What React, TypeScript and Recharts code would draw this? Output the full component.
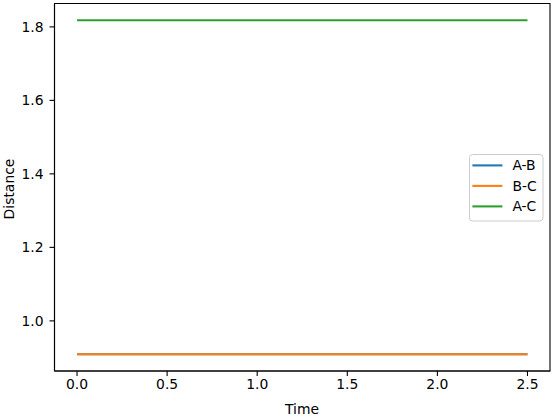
import React from 'react';
import { LineChart, Line, XAxis, YAxis, Legend, ReferenceArea } from 'recharts';

const times = [0, 0.25, 0.5, 0.75, 1.0, 1.25, 1.5, 1.75, 2.0, 2.25, 2.5];
const abDistance = [0.909, 0.909, 0.909, 0.909, 0.909, 0.909, 0.909, 0.909, 0.909, 0.909, 0.909];
const bcDistance = [0.909, 0.909, 0.909, 0.909, 0.909, 0.909, 0.909, 0.909, 0.909, 0.909, 0.909];
const acDistance = [1.818, 1.818, 1.818, 1.818, 1.818, 1.818, 1.818, 1.818, 1.818, 1.818, 1.818];
const xTicks = [0, 0.5, 1.0, 1.5, 2.0, 2.5];
const yTicks = [1.0, 1.2, 1.4, 1.6, 1.8];
const xDomain = [-0.125, 2.625];
const yDomain = [0.8636, 1.8636];

const seriesNames = ['A-B', 'B-C', 'A-C'];
const seriesKeys = ['ab', 'bc', 'ac'];
const seriesColors = ['#1f77b4', '#ff7f0e', '#2ca02c'];

const data = times.map((t, i) => ({
  t,
  ab: abDistance[i],
  bc: bcDistance[i],
  ac: acDistance[i],
}));

const FONT = 'DejaVu Sans, sans-serif';
const FS = 13.9;

const LegendBox = () => (
  <svg width={75} height={68} style={{ display: 'block' }}>
    <rect x={0.5} y={0.5} width={73.5} height={66.5} rx={3} ry={3}
      fill="rgba(255,255,255,0.8)" stroke="#cccccc" strokeWidth={1} />
    {seriesNames.map((n, i) => (
      <g key={n}>
        <line x1={3.4} x2={33.4} y1={11.4 + i * 20.5} y2={11.4 + i * 20.5}
          stroke={seriesColors[i]} strokeWidth={2.08} />
        <text x={43.4} y={11.4 + i * 20.5} dominantBaseline="central"
          fontFamily={FONT} fontSize={FS} fill="#000">{n}</text>
      </g>
    ))}
  </svg>
);

export default function App() {
  return (
    <div style={{ position: 'absolute', left: 0, top: 0 }}>
      <LineChart width={554} height={417} data={data}
        margin={{ top: 3.5, right: 4, left: 0, bottom: 0 }}
        style={{ background: '#fff' }}>
        <XAxis dataKey="t" type="number" domain={xDomain} ticks={xTicks}
          allowDataOverflow height={46}
          tickFormatter={(v: number) => v.toFixed(1)}
          tick={{ fill: '#000', fontFamily: FONT, fontSize: FS }}
          tickSize={5} tickMargin={3.3}
          tickLine={{ stroke: '#000', strokeWidth: 1.1 }}
          axisLine={{ stroke: '#000', strokeWidth: 1.1 }}
          label={(props: any) => (
            <text x={302} y={413.5} textAnchor="middle" fontFamily={FONT}
              fontSize={FS} fill="#000">Time</text>
          )} />
        <YAxis type="number" domain={yDomain} ticks={yTicks}
          allowDataOverflow width={54.5}
          tickFormatter={(v: number) => v.toFixed(1)}
          tick={{ fill: '#000', fontFamily: FONT, fontSize: FS }}
          tickSize={5} tickMargin={6}
          tickLine={{ stroke: '#000', strokeWidth: 1.1 }}
          axisLine={{ stroke: '#000', strokeWidth: 1.1 }}
          label={(props: any) => (
            <text x={14} y={189} textAnchor="middle" fontFamily={FONT}
              fontSize={FS} fill="#000" transform="rotate(-90 14 189)">Distance</text>
          )} />
        <ReferenceArea x1={xDomain[0]} x2={xDomain[1]} y1={yDomain[0]} y2={yDomain[1]}
          fill="none" fillOpacity={0} stroke="#000" strokeWidth={1.1} strokeOpacity={1}
          ifOverflow="visible" />
        {seriesKeys.map((k, i) => (
          <Line key={k} dataKey={k} name={seriesNames[i]} type="linear"
            stroke={seriesColors[i]} strokeWidth={2.08} dot={false}
            activeDot={false} isAnimationActive={false} />
        ))}
        <Legend layout="vertical" align="center" verticalAlign="middle"
          content={() => <LegendBox />}
          wrapperStyle={{ left: 469, top: 154, width: 75, height: 68 }} />
      </LineChart>
    </div>
  );
}
